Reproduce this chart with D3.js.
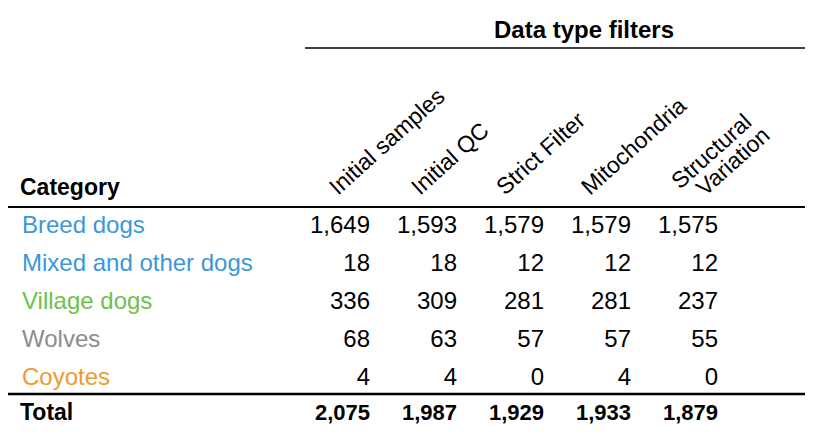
<!DOCTYPE html><html><head><script src="https://d3js.org/d3.v7.min.js"></script>
<style>body{margin:0;background:#fff}text{font-family:"Liberation Sans",Arial,sans-serif}</style></head><body>
<svg id="c" width="837" height="445"></svg>
<script>
const columns=["Initial samples","Initial QC","Strict Filter","Mitochondria","Structural Variation"];
const categories=["Breed dogs","Mixed and other dogs","Village dogs","Wolves","Coyotes"];
const catColors=["#3b97d9","#3b97d9","#6cc24a","#8c8c8c","#ef9a2e"];
const values=[[1649,1593,1579,1579,1575],[18,18,12,12,12],[336,309,281,281,237],[68,63,57,57,55],[4,4,0,4,0]];
const totals=[2075,1987,1929,1933,1879];
const svg=d3.select("#c");
const x=d3.scaleLinear().domain([0,4]).range([370,718]);
const y=d3.scaleLinear().domain([0,4]).range([233,385]);
const fmt=d3.format(",");
const fs=26;
svg.append("text").attr("x",584).attr("y",38).attr("text-anchor","middle").attr("font-size",fs-2).attr("font-weight","bold").text("Data type filters");
svg.append("line").attr("x1",305).attr("x2",805).attr("y1",48).attr("y2",48).attr("stroke","#000").attr("stroke-width",1.5);
svg.append("text").attr("x",20).attr("y",195).attr("font-size",fs-3).attr("font-weight","bold").text("Category");
svg.append("line").attr("x1",8).attr("x2",805).attr("y1",207).attr("y2",207).attr("stroke","#000").attr("stroke-width",2);
svg.append("line").attr("x1",8).attr("x2",805).attr("y1",394).attr("y2",394).attr("stroke","#000").attr("stroke-width",2.5);
const hx=[338,420,505,590,680];
columns.forEach((c,i)=>{
  const g=svg.append("g").attr("transform",`translate(${hx[i]},${i==4?190:196}) rotate(-42)`);
  if(i==4){
    g.append("text").attr("font-size",fs-3).text("Structural");
    g.append("text").attr("x",14).attr("y",22).attr("font-size",fs-3).text("Variation");
  } else g.append("text").attr("font-size",fs-3).text(c);
});
categories.forEach((c,r)=>{
  svg.append("text").attr("x",22).attr("y",y(r)).attr("font-size",fs-2).attr("fill",catColors[r]).text(c);
  values[r].forEach((v,i)=>svg.append("text").attr("x",x(i)).attr("y",y(r)).attr("text-anchor","end").attr("font-size",fs-2).text(fmt(v)));
});
svg.append("text").attr("x",20).attr("y",420).attr("font-size",fs-3).attr("font-weight","bold").text("Total");
totals.forEach((v,i)=>svg.append("text").attr("x",x(i)).attr("y",420).attr("text-anchor","end").attr("font-size",fs-4).attr("font-weight","bold").text(fmt(v)));
</script></body></html>
